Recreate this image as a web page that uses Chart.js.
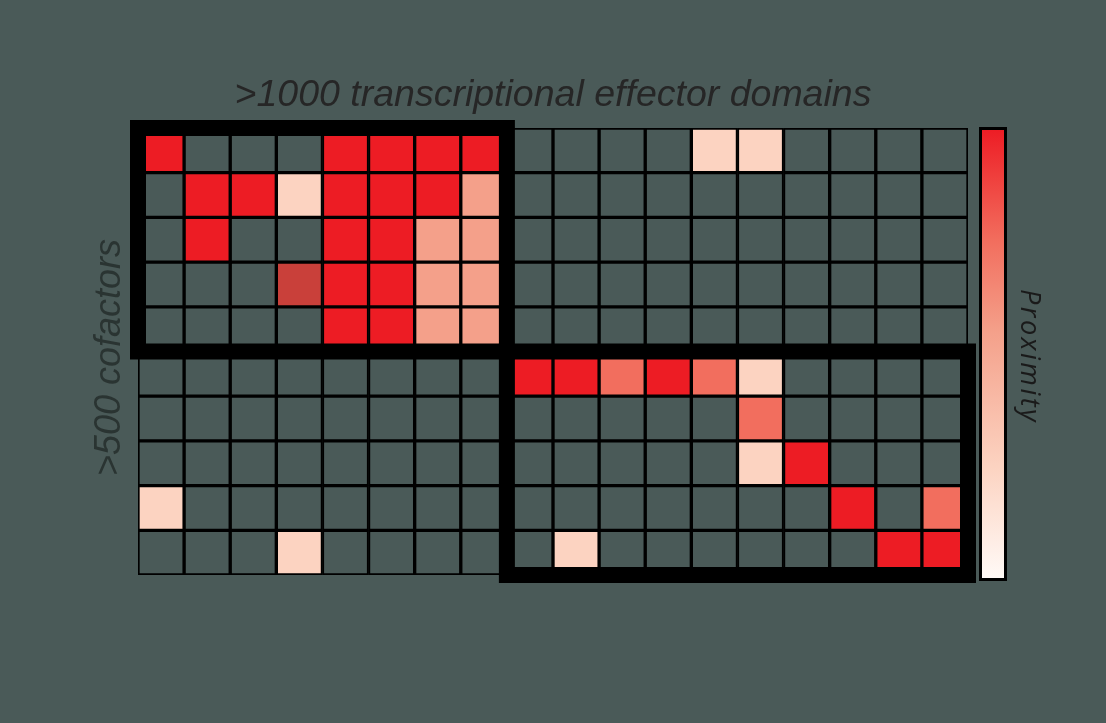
<!DOCTYPE html>
<html>
<head>
<meta charset="utf-8">
<script src="https://cdn.jsdelivr.net/npm/chart.js@4.4.1/dist/chart.umd.min.js"></script>
<style>
  html, body { margin: 0; padding: 0; background: #4a5a58; }
  #wrap { width: 1106px; height: 723px; }
</style>
</head>
<body>
<div id="wrap"><canvas id="heatmap"></canvas></div>
<script>
// columns = effector domains, rows = cofactors
const domains = ['D1', 'D2', 'D3', 'D4', 'D5', 'D6', 'D7', 'D8',
  'D9', 'D10', 'D11', 'D12', 'D13', 'D14', 'D15', 'D16', 'D17', 'D18'];
const cofactors = ['C1', 'C2', 'C3', 'C4', 'C5', 'C6', 'C7', 'C8', 'C9', 'C10'];

// proximity per cofactor (null = nothing measured)
const _ = null;
const proximity = [
  [1, _, _, _, 1, 1, 1, 1,        _, _, _, _, .25, .25, _, _, _, _],
  [_, 1, 1, .25, 1, 1, 1, .55,    _, _, _, _, _, _, _, _, _, _],
  [_, 1, _, _, 1, 1, .55, .55,    _, _, _, _, _, _, _, _, _, _],
  [_, _, _, 1.3, 1, 1, .55, .55,  _, _, _, _, _, _, _, _, _, _],
  [_, _, _, _, 1, 1, .55, .55,    _, _, _, _, _, _, _, _, _, _],
  [_, _, _, _, _, _, _, _,        1, 1, .75, 1, .75, .25, _, _, _, _],
  [_, _, _, _, _, _, _, _,        _, _, _, _, _, .75, _, _, _, _],
  [_, _, _, _, _, _, _, _,        _, _, _, _, _, .25, 1, _, _, _],
  [.25, _, _, _, _, _, _, _,      _, _, _, _, _, _, _, 1, _, .75],
  [_, _, _, .25, _, _, _, _,      _, .25, _, _, _, _, _, _, 1, 1]
];

// framed groups: [first col, end col) x [first row, end row)
const groupCols = [[0, 8], [8, 18]];
const groupRows = [[0, 5], [5, 10]];

const xTitle = '>1000 transcriptional effector domains';
const yTitle = '>500 cofactors';
const barTitle = 'Proximity';

const bg = '#4a5a58';
const stops = [
  [0, [255, 250, 247]],
  [0.25, [252, 211, 193]],
  [0.55, [244, 160, 138]],
  [0.75, [242, 110, 94]],
  [1, [237, 28, 36]],
  [1.3, [201, 64, 58]]
];

function colorFor(v) {
  if (v === null) return bg;
  for (let i = 1; i < stops.length; i++) {
    const [v0, c0] = stops[i - 1];
    const [v1, c1] = stops[i];
    if (v <= v1) {
      const t = (v - v0) / (v1 - v0);
      const c = c0.map((a, k) => Math.round(a + (c1[k] - a) * t));
      return `rgb(${c[0]},${c[1]},${c[2]})`;
    }
  }
  const c = stops[stops.length - 1][1];
  return `rgb(${c[0]},${c[1]},${c[2]})`;
}

const datasets = proximity.map((row, r) => ({
  label: cofactors[r],
  data: row.map(() => [r, r + 1]),
  backgroundColor: row.map(colorFor),
  borderColor: '#000',
  borderWidth: 2,
  borderSkipped: false,
  grouped: false,
  categoryPercentage: 1,
  barPercentage: 1
}));

const decor = {
  id: 'decor',
  afterDatasetsDraw(chart) {
    const { ctx, chartArea: a, scales: { x, y } } = chart;
    const half = (x.getPixelForValue(1) - x.getPixelForValue(0)) / 2;
    ctx.save();

    // thick frames around the two groups
    ctx.strokeStyle = '#000';
    ctx.lineWidth = 16;
    groupCols.forEach((cols, g) => {
      const rows = groupRows[g];
      const l = x.getPixelForValue(cols[0]) - half;
      const r = x.getPixelForValue(cols[1] - 1) + half;
      const t = y.getPixelForValue(rows[0]);
      const b = y.getPixelForValue(rows[1]);
      ctx.strokeRect(l, t, r - l, b - t);
    });

    // colour bar
    const bx = a.right + 12.5, bw = 25, bt = a.top + 0.5, bb = a.bottom + 4.5;
    const grad = ctx.createLinearGradient(0, bb, 0, bt);
    stops.filter(s => s[0] <= 1).forEach(([v, c]) => grad.addColorStop(v, `rgb(${c[0]},${c[1]},${c[2]})`));
    ctx.fillStyle = grad;
    ctx.fillRect(bx, bt, bw, bb - bt);
    ctx.lineWidth = 3;
    ctx.strokeRect(bx, bt, bw, bb - bt);

    // titles
    ctx.fillStyle = '#262626';
    ctx.font = 'italic 37.5px "Liberation Sans"';
    ctx.textAlign = 'center';
    ctx.textBaseline = 'alphabetic';
    ctx.fillText(xTitle, (a.left + a.right) / 2, a.top - 22);

    ctx.save();
    ctx.fillStyle = '#2a3432';
    ctx.font = 'italic 36px "Liberation Sans"';
    ctx.translate(a.left - 18, (a.top + a.bottom) / 2 + 6);
    ctx.rotate(-Math.PI / 2);
    ctx.fillText(yTitle, 0, 0);
    ctx.restore();

    ctx.save();
    ctx.fillStyle = '#1a1a1a';
    ctx.font = 'italic 27px "Open Sans"';
    ctx.letterSpacing = '2.5px';
    ctx.translate(a.right + 53, (a.top + a.bottom) / 2 + 5);
    ctx.rotate(Math.PI / 2);
    ctx.fillText(barTitle, 0, 0);
    ctx.restore();

    ctx.restore();
  }
};

const ctx = document.getElementById('heatmap').getContext('2d');
const chart = new Chart(ctx, {
  type: 'bar',
  data: { labels: domains, datasets: datasets },
  options: {
    responsive: true,
    maintainAspectRatio: false,
    animation: false,
    layout: { padding: { left: 138, top: 128, right: 138, bottom: 148 } },
    plugins: { legend: { display: false }, tooltip: { enabled: false } },
    scales: {
      x: { display: false, offset: true },
      y: { display: false, min: 0, max: 10, reverse: true }
    }
  },
  plugins: [decor]
});
</script>
</body>
</html>
